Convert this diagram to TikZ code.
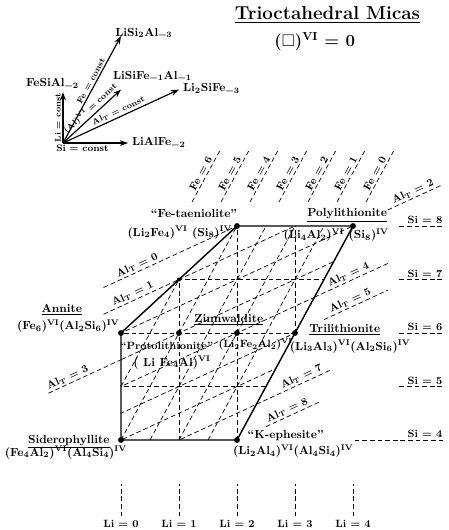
\documentclass[tikz,border=0pt]{standalone}
\usepackage{amssymb}
\usetikzlibrary{arrows.meta,positioning}

\newcommand{\low}[1]{\textsubscript{#1}}
\newcommand{\oct}{\textsuperscript{VI}}
\newcommand{\tet}{\textsuperscript{IV}}

\begin{document}
\begin{tikzpicture}[
    x=1.74cm, y=1.605cm,
    every node/.style={font=\bfseries},
    border/.style={line width=1.2pt},
    guide/.style={dash pattern=on 4pt off 2.5pt, line width=0.6pt},
    vec/.style={line width=1pt, -{Stealth[length=7pt,width=5pt]}},
    mineral/.style={anchor=base, inner sep=0pt},
    dot/.style={circle, fill=black, inner sep=0pt, minimum size=5pt},
    lbl/.style={font=\bfseries\small, sloped, above, inner sep=1.5pt}
]
    \useasboundingbox (-2.086,2.318) rectangle (5.638,12.224);

    % --- TITLE ---
    \node[anchor=base, font=\bfseries\fontsize{16}{19}\selectfont] (title) at (3.56,11.85) {\underline{Trioctahedral Micas}};
    \node[anchor=base, font=\bfseries\Large] (vac) at (3.34,11.35) {($\square$)\oct{} = 0};

    % --- INSET: EXCHANGE VECTORS ---
    \coordinate (o) at (-1,9.55);
    \coordinate (tLi) at (-1,10.5);
    \coordinate (tSi) at (0.12,9.55);
    \coordinate (tFe) at (0,11.55);
    \coordinate (tAlO) at (0,10.55);
    \coordinate (tAlT) at (1,10.55);
    \draw[vec] (o) -- node[lbl, font=\bfseries\scriptsize, pos=0.5] (lic) {Li = const} (tLi);
    \draw[vec] (o) -- node[below, font=\bfseries\footnotesize, pos=0.3, inner sep=1pt] (sic) {Si = const} (tSi);
    \draw[vec] (o) -- node[lbl, font=\bfseries\scriptsize, pos=0.56] (fec) {Fe = const} (tFe);
    \draw[vec] (o) -- node[lbl, font=\bfseries\scriptsize, pos=0.55] (aloc) {(Al)\oct{} = const} (tAlO);
    \draw[vec] (o) -- node[lbl, font=\bfseries\scriptsize, pos=0.5] (altc) {Al\low{T} = const} (tAlT);
    \node[anchor=base, xshift=-9pt, yshift=5pt] (fesial) at (tLi) {FeSiAl\low{\textminus2}};
    \node[anchor=base west, yshift=-2pt] (lialfe) at (tSi) {LiAlFe\low{\textminus2}};
    \node[anchor=base west, xshift=-5pt, inner sep=0pt] (lisial) at (tFe) {LiSi\low{2}Al\low{\textminus3}};
    \node[anchor=base west, xshift=-7pt, yshift=9pt, inner sep=0pt] (lisife) at (tAlO) {LiSiFe\low{\textminus1}Al\low{\textminus1}};
    \node[anchor=base west, yshift=-2pt] (li2sife) at (tAlT) {Li\low{2}SiFe\low{\textminus3}};

    % --- END MEMBERS (Li, Si) ---
    \coordinate (sid) at (0,4);
    \coordinate (ann) at (0,6);
    \coordinate (fet) at (2,8);
    \coordinate (pol) at (4,8);
    \coordinate (tri) at (3,6);
    \coordinate (keph) at (2,4);
    \coordinate (pro) at (1,6);
    \coordinate (zin) at (2,6);
    \coordinate (mid) at (1,7);

    % inner grid, clipped to the field
    \begin{scope}
        \clip (sid) -- (ann) -- (fet) -- (pol) -- (tri) -- (keph) -- cycle;
        \foreach \k in {1,2,3} \draw[guide] (\k,3) -- (\k,9);
        \foreach \k in {5,6,7} \draw[guide] (-1,\k) -- (5,\k);
        \foreach \k in {1,...,5} \draw[guide] ({(3-\k)/2},3) -- ({(9-\k)/2},9);
        \foreach \k in {1,...,7} \draw[guide] ({\k-8},3) -- ({\k+4},9);
    \end{scope}

    \draw[border] (sid) -- (ann) -- (fet) -- (pol) -- (tri) -- (keph) -- cycle;
    \foreach \p in {sid,ann,fet,pol,tri,keph,pro,zin}
        \node[dot] (d\p) at (\p) {};
    \node[dot, minimum size=3.5pt] (dmid) at (mid) {};

    % --- FE LINES ---
    \foreach \k in {0,...,6}
        \draw[guide] ({(8.45-\k)/2},8.45) -- node[lbl] (fe\k) {Fe = \k} ({(9.4-\k)/2},9.4);

    % --- AL_T LINES ---
    \draw[guide] (-0.3,6.85) -- node[lbl, pos=0.27] (alt0) {Al\low{T} = 0} (fet);
    \draw[guide] (-0.3,6.35) -- node[lbl, pos=0.42] (alt1) {Al\low{T} = 1} (mid);
    \draw[guide] (4.6,8.3) -- node[lbl] (alt2) {Al\low{T} = 2} (5.55,8.775);
    \draw[guide] (-1.25,4.875) -- node[lbl, pos=0.3] (alt3) {Al\low{T} = 3} (0,5.5);
    \draw[guide] (3.333,6.667) -- node[lbl, pos=0.5] (alt4) {Al\low{T} = 4} (4.6,7.3);
    \draw[guide] (3.5,6.25) -- node[lbl, pos=0.45] (alt5) {Al\low{T} = 5} (4.6,6.8);
    \draw[guide] (2.333,4.667) -- node[lbl, pos=0.65] (alt7) {Al\low{T} = 7} (3.6,5.3);
    \draw[guide] (2.5,4.25) -- node[lbl, pos=0.43] (alt8) {Al\low{T} = 8} (3.45,4.725);

    % --- SI AND LI LINES ---
    \foreach \k/\xa in {8/4.8,7/4.8,6/4.8,5/4.8,4/4.03} {
        \draw[guide] (\xa,\k) -- (5.55,\k);
        \node[anchor=south, font=\bfseries\small, inner sep=1.5pt] (si\k) at (5.24,\k) {Si = \k};
    }
    \foreach \k in {0,...,4} {
        \node[anchor=base, font=\bfseries\small] (li\k) at (\k,2.36) {Li = \k};
        \draw[guide] (li\k.north) -- ++(0,0.6);
    }

    % --- MINERAL NAMES ---
    \node[mineral] (nfet) at (1.26,8.15) {``Fe-taeniolite''};
    \node[mineral, anchor=base east] (ffet) at (1.92,7.81) {(Li\low{2}Fe\low{4})\oct{} (Si\low{8})\tet};
    \node[mineral] (npol) at (3.9,8.17) {\underline{Polylithionite}};
    \node[mineral] (fpol) at (3.71,7.76) {(Li\low{4}Al\low{2})\oct{} (Si\low{8})\tet};
    \node[mineral] (nann) at (-1.02,6.39) {\underline{Annite}};
    \node[mineral] (fann) at (-0.91,6.06) {(Fe\low{6})\oct(Al\low{2}Si\low{6})\tet};
    \node[mineral] (nzin) at (1.86,6.19) {\underline{Zinnwaldite}};
    \node[mineral, font=\bfseries\small] (fzin) at (2.32,5.72) {(Li\low{2}Fe\low{2}Al\low{2})\oct};
    \node[mineral, font=\bfseries\small] (npro) at (0.79,5.70) {``Protolithionite''};
    \node[mineral] (fpro) at (0.88,5.38) {( Li Fe\low{4}Al)\oct};
    \node[mineral] (ntri) at (3.86,6.0) {\underline{Trilithionite}};
    \node[mineral] (ftri) at (3.95,5.68) {(Li\low{3}Al\low{3})\oct(Al\low{2}Si\low{6})\tet};
    \node[mineral] (nsid) at (-0.9,3.94) {\underline{Siderophyllite}};
    \node[mineral] (fsid) at (-0.95,3.70) {(Fe\low{4}Al\low{2})\oct(Al\low{4}Si\low{4})\tet};
    \node[mineral] (nkep) at (2.84,4.02) {``K-ephesite''};
    \node[mineral] (fkep) at (2.97,3.72) {(Li\low{2}Al\low{4})\oct(Al\low{4}Si\low{4})\tet};
\end{tikzpicture}
\end{document}
